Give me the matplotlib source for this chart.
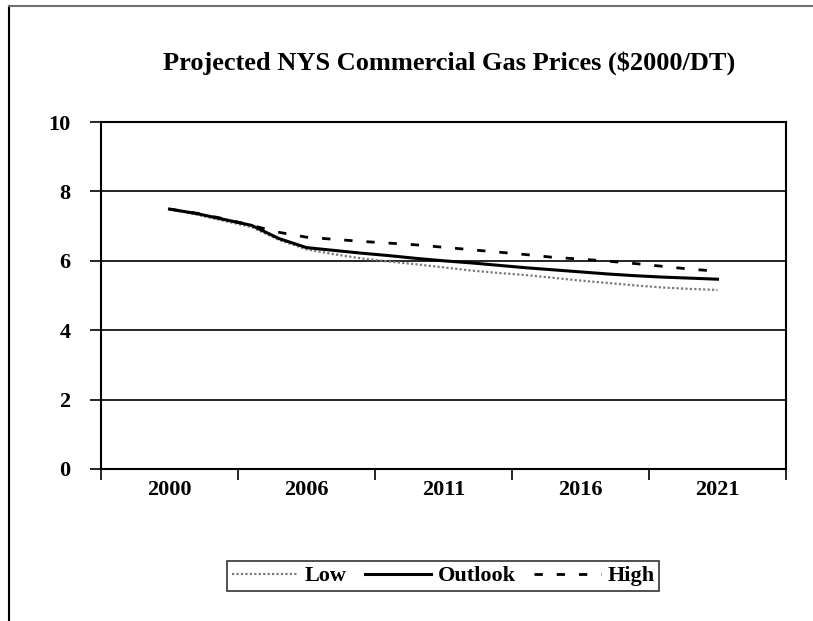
import matplotlib.pyplot as plt
from matplotlib.lines import Line2D

# --- datos ---
anios = [2000, 2002, 2003, 2004, 2005, 2006, 2007, 2008, 2009, 2010, 2011,
         2012, 2013, 2014, 2015, 2016, 2017, 2018, 2019, 2020, 2021]
etiquetas = ["2000", "2006", "2011", "2016", "2021"]
low = [7.49, 7.33, 7.15, 6.97, 6.60, 6.33, 6.19, 6.07, 5.98, 5.90, 5.81,
       5.72, 5.65, 5.59, 5.51, 5.43, 5.36, 5.29, 5.23, 5.19, 5.16]
outlook = [7.49, 7.36, 7.19, 7.02, 6.64, 6.38, 6.30, 6.22, 6.15, 6.07, 6.00,
           5.94, 5.87, 5.80, 5.74, 5.68, 5.62, 5.57, 5.53, 5.50, 5.47]
high = [7.49, 7.37, 7.21, 7.02, 6.82, 6.68, 6.62, 6.56, 6.51, 6.46, 6.39,
        6.32, 6.25, 6.18, 6.10, 6.05, 5.99, 5.92, 5.84, 5.76, 5.70]

fuente = ["Liberation Serif", "DejaVu Serif"]

fig = plt.figure(figsize=(8.13, 6.21), dpi=100)
ax = fig.add_axes([101 / 813, 1 - 469 / 621, 685 / 813, 347 / 621])

x = list(range(len(anios)))  # eje de categorias
ax.plot(x, low, color="#7a7a7a", lw=1.6, ls=(0, (1, 1)), label="Low")
ax.plot(x, outlook, color="black", lw=2.2, label="Outlook")
ax.plot(x, high, color="black", lw=2.0, ls=(0, (3, 5)), label="High")

ax.set_ylim(0, 10)
ax.set_xlim(-2.5, 22.5)
ax.set_yticks([0, 2, 4, 6, 8, 10])
ax.grid(axis="y", color="black", lw=1.2)
ax.set_axisbelow(True)

# marcas entre categorias, etiquetas cada 5 categorias
ax.set_xticks([-2.5, 2.5, 7.5, 12.5, 17.5, 22.5])
ax.set_xticklabels([])
ax.set_xticks([x[i] for i in range(0, len(anios), 5)], minor=True)
ax.set_xticklabels(etiquetas, minor=True)
ax.tick_params(axis="x", which="minor", length=0, pad=8)
ax.tick_params(axis="x", which="major", length=8, width=1.2, direction="out")
ax.tick_params(axis="y", length=8, width=1.2, direction="out", pad=14)

for lbl in ax.get_xticklabels(minor=True) + ax.get_yticklabels():
    lbl.set_fontfamily(fuente)
    lbl.set_fontweight("bold")
    lbl.set_fontsize(16)

for s in ax.spines.values():
    s.set_color("black")
    s.set_linewidth(1.5)

fig.text(449 / 813, 1 - 63 / 621, "Projected NYS Commercial Gas Prices ($2000/DT)",
         ha="center", va="center", fontsize=19, fontweight="bold", family=fuente)

leg = fig.legend(loc="center", bbox_to_anchor=(443 / 813, 1 - 576 / 621), ncol=3,
                 frameon=True, fancybox=False, edgecolor="black",
                 prop={"family": fuente, "weight": "bold", "size": 16},
                 handlelength=3.0, handletextpad=0.3, columnspacing=0.8,
                 borderpad=0.2)
leg.get_frame().set_linewidth(1.2)

# marco de la pagina
fig.add_artist(Line2D([9 / 813, 9 / 813], [0, 1 - 6 / 621], color="black", lw=1.5))
fig.add_artist(Line2D([9 / 813, 1], [1 - 6 / 621, 1 - 6 / 621], color="#707070", lw=1.5))

fig.savefig("out.png", dpi=100)
